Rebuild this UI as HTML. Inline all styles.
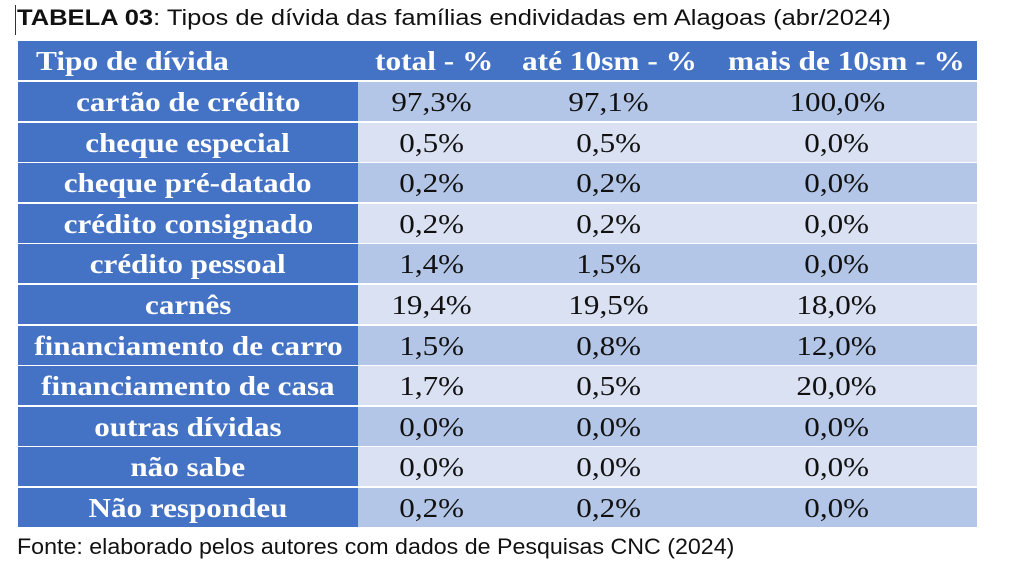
<!DOCTYPE html>
<html><head><meta charset="utf-8"><style>
body{margin:0;width:1024px;height:574px;background:#fff;position:relative;overflow:hidden;font-family:"Liberation Serif",serif}
.t{position:absolute;white-space:nowrap;transform-origin:0 0}
.cap{font-family:"Liberation Sans",sans-serif;font-size:22px;color:#111}
.row{position:absolute;left:18px;width:959px;height:39px}
.lab{position:absolute;left:18px;width:340px;height:39px;background:#4472C4;color:#fff;font-weight:bold;font-size:27.5px;text-align:center;line-height:39px}
.v{position:absolute;font-size:27.5px;line-height:39px;text-align:center;color:#111}
.s{display:inline-block;transform:scaleX(1.13)}
</style></head><body>
<div style="position:absolute;left:15px;top:5px;width:1px;height:30px;background:#333"></div>
<div class="t cap" style="left:17px;top:5px;transform:scaleX(1.16)"><b>TABELA 03</b>: Tipos de dívida das famílias endividadas em Alagoas (abr/2024)</div>
<div style="position:absolute;left:18px;top:41px;width:959px;height:39px;background:#4472C4"></div>
<div class="t" style="left:36px;top:41px;line-height:39px;color:#fff;font-weight:bold;font-size:27.5px;transform:scaleX(1.14)">Tipo de dívida</div>
<div class="t" style="left:375px;top:41px;line-height:39px;color:#fff;font-weight:bold;font-size:27.5px;transform:scaleX(1.14)">total - %</div>
<div class="t" style="left:522px;top:41px;line-height:39px;color:#fff;font-weight:bold;font-size:27.5px;transform:scaleX(1.14)">até 10sm - %</div>
<div class="t" style="left:728px;top:41px;line-height:39px;color:#fff;font-weight:bold;font-size:27.5px;transform:scaleX(1.14)">mais de 10sm - %</div>
<div id="rows"></div>
<script>
var d=[["cartão de crédito","97,3%","97,1%","100,0%"],["cheque especial","0,5%","0,5%","0,0%"],["cheque pré-datado","0,2%","0,2%","0,0%"],["crédito consignado","0,2%","0,2%","0,0%"],["crédito pessoal","1,4%","1,5%","0,0%"],["carnês","19,4%","19,5%","18,0%"],["financiamento de carro","1,5%","0,8%","12,0%"],["financiamento de casa","1,7%","0,5%","20,0%"],["outras dívidas","0,0%","0,0%","0,0%"],["não sabe","0,0%","0,0%","0,0%"],["Não respondeu","0,2%","0,2%","0,0%"]];
var h="";
for(var i=0;i<d.length;i++){var y=82+i*40.6;var bg=i%2?"#D9E1F2":"#B4C6E7";
h+='<div class="row" style="top:'+y+'px;background:'+bg+'"></div>';
h+='<div class="lab" style="top:'+y+'px"><span class="s">'+d[i][0]+'</span></div>';
h+='<div class="v" style="top:'+y+'px;left:358px;width:148px"><span class="s">'+d[i][1]+'</span></div>';
h+='<div class="v" style="top:'+y+'px;left:506px;width:206px"><span class="s">'+d[i][2]+'</span></div>';
h+='<div class="v" style="top:'+y+'px;left:712px;width:250px"><span class="s">'+d[i][3]+'</span></div>';}
document.getElementById("rows").innerHTML=h;
</script>
<div class="t cap" style="left:17px;top:534px;transform:scaleX(1.055)">Fonte: elaborado pelos autores com dados de Pesquisas CNC (2024)</div>
</body></html>
